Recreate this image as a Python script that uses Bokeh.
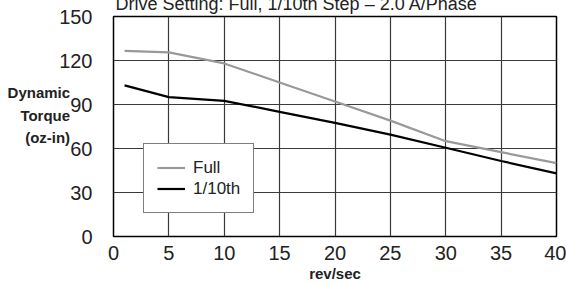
from bokeh.plotting import figure
from bokeh.models import Range1d, Legend, LegendItem, FixedTicker
from bokeh.embed import file_html
from bokeh.resources import INLINE

speed = [1, 5, 10, 15, 20, 25, 30, 35, 40]
torque_full = [126.5, 125.5, 118, 105, 92, 79, 65, 57.5, 50]
torque_tenth = [103, 95, 92.5, 85, 77.5, 69.5, 60.5, 51.5, 43]
x_ticks = [0, 5, 10, 15, 20, 25, 30, 35, 40]
y_ticks = [0, 30, 60, 90, 120, 150]
title_text = "Drive Setting: Full, 1/10th Step \u2013 2.0 A/Phase"
x_label = "rev/sec"
y_label = "Dynamic\nTorque\n(oz-in)\n"

SANS = "Liberation Sans"

p = figure(width=566, height=296, output_backend="svg", toolbar_location=None,
           title=title_text,
           x_range=Range1d(0, 40), y_range=Range1d(0, 150),
           min_border_left=113, min_border_right=10, min_border_top=0, min_border_bottom=46,
           margin=(-12, 0, 0, 0))
p.background_fill_color = "white"
p.border_fill_color = "white"
p.outline_line_color = "black"
p.outline_line_width = 1.5

p.title.text_font = SANS
p.title.text_font_size = "18px"
p.title.text_font_style = "normal"
p.title.text_color = "#222222"
p.title.align = "left"
p.title.offset = 2
p.title.standoff = 6

for ax in (p.xaxis[0], p.yaxis[0]):
    ax.major_tick_line_color = None
    ax.minor_tick_line_color = None
    ax.axis_line_color = None
    ax.major_label_text_font = SANS
    ax.major_label_text_font_size = "20px"
    ax.major_label_text_color = "#222222"
    ax.axis_label_text_font = SANS
    ax.axis_label_text_font_size = "15px"
    ax.axis_label_text_font_style = "bold"
    ax.axis_label_text_color = "#222222"
p.xaxis.ticker = FixedTicker(ticks=x_ticks)
p.yaxis.ticker = FixedTicker(ticks=y_ticks)
p.xaxis.major_label_standoff = 3
p.yaxis.major_label_standoff = 15
p.xaxis.axis_label = x_label
p.xaxis.axis_label_standoff = 2
p.yaxis.axis_label = y_label
p.yaxis.axis_label_orientation = "horizontal"
p.yaxis.axis_label_standoff = -14
p.yaxis.axis_label_text_align = "center"
p.yaxis.axis_label_text_line_height = 1.35

p.xgrid.ticker = FixedTicker(ticks=x_ticks)
p.ygrid.ticker = FixedTicker(ticks=y_ticks)
for g in (p.xgrid[0], p.ygrid[0]):
    g.grid_line_color = "#3a3a3a"
    g.grid_line_width = 1.2

r_full = p.line(speed, torque_full, line_color="#999999", line_width=2.2)
r_tenth = p.line(speed, torque_tenth, line_color="black", line_width=2.2)

legend = Legend(items=[LegendItem(label="Full", renderers=[r_full]),
                       LegendItem(label="1/10th", renderers=[r_tenth])],
                location=(30, 23))
legend.border_line_color = "black"
legend.border_line_width = 1.5
legend.background_fill_alpha = 1
legend.label_text_font = SANS
legend.label_text_font_size = "17px"
legend.label_text_color = "#222222"
legend.padding = 13
legend.margin = 0
legend.spacing = 0
legend.glyph_width = 28
legend.glyph_height = 21
legend.label_height = 21
legend.label_standoff = 8
legend.label_width = 40
p.add_layout(legend, "center")

open("out.html", "w").write(file_html(p, INLINE))
